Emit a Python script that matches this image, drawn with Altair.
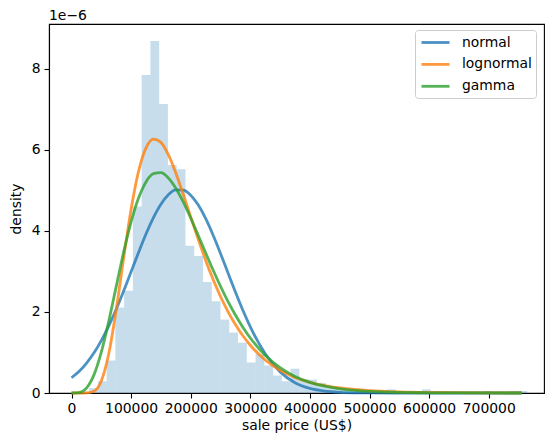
import altair as alt
import pandas as pd

# Histogram (density, units of 1e-6)
bin_edges = [29500, 44200, 58900, 73600, 88300, 103000, 117700, 132400, 147100, 161800,
             176500, 191200, 205900, 220600, 235300, 250000, 264700, 279400, 294100, 308800,
             323500, 338200, 352900, 367600, 382300, 397000, 411700, 426400, 441100, 455800,
             470500, 485200, 499900, 514600, 529300, 544000, 558700, 573400, 588100, 602800,
             617500, 632200, 646900, 661600, 676300, 691000, 705700, 720400, 735100, 749800,
             764500]
bin_density = [0.12, 0.29, 0.80, 2.11, 2.52, 4.60, 7.84, 8.68, 7.13, 5.62,
               5.52, 3.63, 3.38, 2.74, 2.26, 1.81, 1.49, 1.24, 0.75, 0.96,
               0.68, 0.43, 0.29, 0.60, 0.34, 0.33, 0.25, 0.16, 0.15, 0.09,
               0.09, 0.05, 0.05, 0.05, 0.09, 0.05, 0.05, 0.05, 0.09, 0.05,
               0.05, 0.0, 0.0, 0.0, 0.0, 0.05, 0.0, 0.0, 0.05, 0.05]

# Fitted curves (units of 1e-6)
price_grid = [0, 12500, 25000, 37500, 50000, 62500, 75000, 87500, 100000, 112500,
              125000, 137500, 150000, 162500, 175000, 187500, 200000, 212500, 225000, 237500,
              250000, 262500, 275000, 287500, 300000, 325000, 350000, 375000, 400000, 425000,
              450000, 475000, 500000, 550000, 600000, 650000, 700000, 755000]
normal_pdf = [0.376, 0.531, 0.732, 0.984, 1.292, 1.653, 2.065, 2.515, 2.990, 3.466,
              3.920, 4.325, 4.655, 4.889, 5.008, 5.005, 4.879, 4.640, 4.306, 3.897,
              3.441, 2.964, 2.491, 2.042, 1.633, 0.970, 0.521, 0.254, 0.112, 0.045,
              0.016, 0.005, 0.002, 0.0, 0.0, 0.0, 0.0, 0.0]
lognormal_pdf = [0.0, 0.0, 0.001, 0.043, 0.298, 0.968, 2.049, 3.326, 4.531, 5.466,
                 6.043, 6.263, 6.181, 5.877, 5.428, 4.900, 4.343, 3.794, 3.276, 2.803,
                 2.380, 2.008, 1.687, 1.411, 1.177, 0.813, 0.559, 0.383, 0.263, 0.180,
                 0.124, 0.086, 0.059, 0.029, 0.014, 0.007, 0.004, 0.002]
gamma_pdf = [0.0, 0.010, 0.119, 0.440, 1.007, 1.768, 2.624, 3.473, 4.219, 4.807,
             5.206, 5.409, 5.433, 5.303, 5.051, 4.712, 4.316, 3.890, 3.457, 3.034,
             2.632, 2.259, 1.922, 1.622, 1.357, 0.931, 0.624, 0.409, 0.263, 0.167,
             0.104, 0.064, 0.039, 0.014, 0.005, 0.002, 0.001, 0.0]

dist_names = ["normal", "lognormal", "gamma"]
dist_colors = ["#1f77b4", "#ff7f0e", "#2ca02c"]
x_ticks = [0, 100000, 200000, 300000, 400000, 500000, 600000, 700000]
y_ticks = [0, 2, 4, 6, 8]

FONT = "DejaVu Sans"
FS = 13.9

hist_df = pd.DataFrame({
    "left": bin_edges[:-1],
    "right": bin_edges[1:],
    "density": bin_density,
})

rows = []
for name, vals in zip(dist_names, [normal_pdf, lognormal_pdf, gamma_pdf]):
    for p, v in zip(price_grid, vals):
        rows.append({"price": p, "density": v, "dist": name})
curve_df = pd.DataFrame(rows)

x_scale = alt.Scale(domain=[-37750, 792750], nice=False, zero=False)
y_scale = alt.Scale(domain=[0, 9.1], nice=False)

x_axis = alt.Axis(values=x_ticks, format="d", title="sale price (US$)", grid=False,
                  tickSize=5, labelPadding=3, titlePadding=4)
y_axis = alt.Axis(values=y_ticks, format="d", title="density", grid=False,
                  tickSize=5, labelPadding=4, titlePadding=8)

bars = alt.Chart(hist_df).mark_rect(color="#1f77b4", opacity=0.25, strokeWidth=0).encode(
    x=alt.X("left:Q", scale=x_scale, axis=x_axis),
    x2="right:Q",
    y=alt.Y("density:Q", scale=y_scale, axis=y_axis),
    y2=alt.datum(0),
)

color_enc = alt.Color(
    "dist:N",
    scale=alt.Scale(domain=dist_names, range=dist_colors),
    legend=alt.Legend(
        title=None, orient="none", legendX=366, legendY=6,
        symbolType="M-2,0H2", symbolSize=196, symbolStrokeWidth=2.8, symbolOpacity=0.8,
        symbolOffset=8,
        labelFontSize=FS, labelFont=FONT, labelColor="black", labelOffset=18, labelLimit=300,
        labelExpr="datum.label + '\u2002'",
        fillColor="white", strokeColor="#cccccc", cornerRadius=3, padding=4, rowPadding=5.9,
    ),
)

line_layers = []
for name in dist_names:
    line_layers.append(
        alt.Chart(curve_df).transform_filter(alt.datum.dist == name)
        .mark_line(strokeWidth=2.8, opacity=0.8, interpolate="monotone")
        .encode(
            x=alt.X("price:Q", scale=x_scale),
            y=alt.Y("density:Q", scale=y_scale),
            color=color_enc,
        )
    )

offset_text = alt.Chart(pd.DataFrame({"t": ["1e\u22126"]})).mark_text(
    align="left", baseline="alphabetic", font=FONT, fontSize=FS, color="black"
).encode(x=alt.value(0), y=alt.value(-4), text="t:N")

chart = alt.layer(bars, *line_layers, offset_text).properties(
    width=495, height=369,
    autosize=alt.AutoSizeParams(type="none"),
    padding={"left": 41, "top": 16, "right": 1, "bottom": 41},
).configure_view(
    stroke="black", strokeWidth=1.1
).configure_axis(
    labelFont=FONT, labelFontSize=FS, labelColor="black",
    titleFont=FONT, titleFontSize=FS, titleColor="black", titleFontWeight="normal",
    domainColor="black", domainWidth=1.1, tickColor="black", tickWidth=1.1,
)

chart.save("out.html", embed_options={"renderer": "svg", "actions": False})
